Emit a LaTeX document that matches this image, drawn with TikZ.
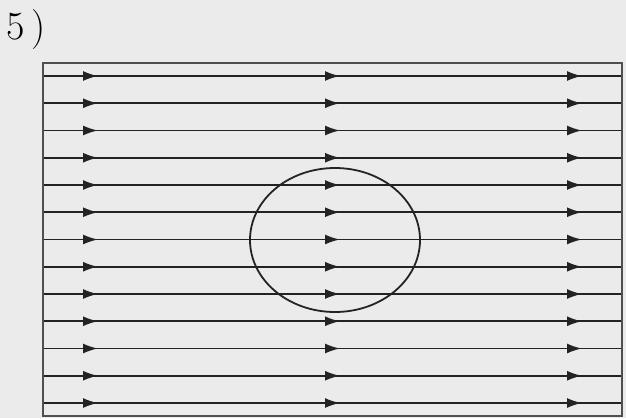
\documentclass[tikz,border=0pt]{standalone}
\usepackage{tikz}
\usetikzlibrary{arrows.meta}
\definecolor{paper}{RGB}{235,235,235}
\definecolor{ink}{RGB}{35,35,35}

\tikzset{
  fieldline/.style={ink, line width=1.8pt},
  fieldarrow/.style={ink, line width=1.8pt, -{Latex[length=15pt,width=10pt]}},
  frame/.style={draw=ink!80, line width=2.2pt},
}

\begin{document}
\begin{tikzpicture}[x=1pt,y=-1pt]
        % Background
        \fill[paper] (0,0) rectangle (626,418);
        \useasboundingbox (0,0) rectangle (626,418);

        % Label
        \node[anchor=west, font=\fontsize{40}{40}\selectfont, inner sep=0pt] (lbl) at (6,30) {5\,)};

        % Frame
        \draw[frame] (43,63) rectangle (622,416);

        % Field lines
        \foreach \i in {0,...,12} {
            \pgfmathsetmacro{\yy}{76+27.25*\i}
            \draw[fieldline] (44,\yy) -- (621,\yy);
            \foreach \xx in {98,340,582}
                \draw[fieldarrow] (\xx-16,\yy) -- (\xx,\yy);
        }

        % Conductor
        \draw[ink, line width=1.8pt] (335,240) ellipse [x radius=85, y radius=72];
    \end{tikzpicture}
\end{document}
